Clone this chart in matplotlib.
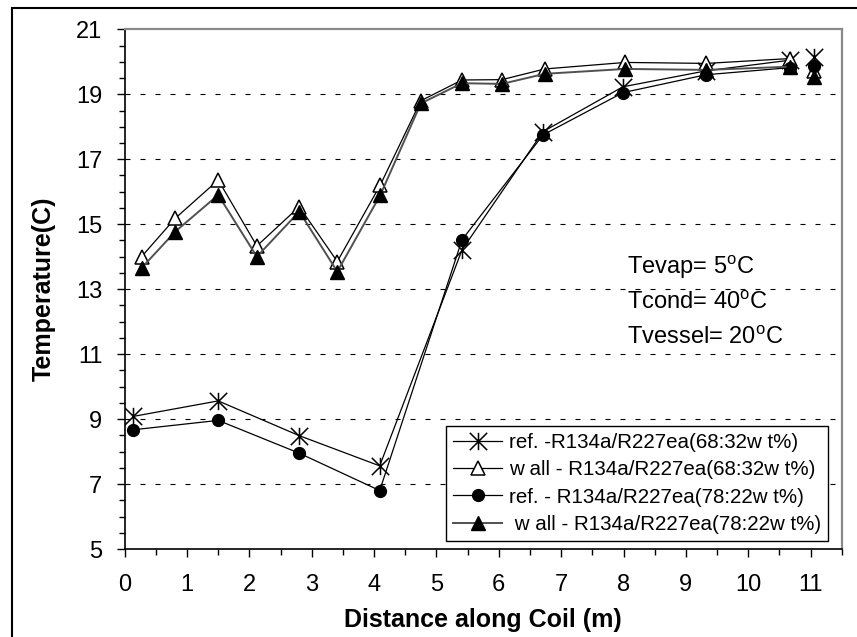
import matplotlib
matplotlib.use("Agg")
import matplotlib.pyplot as plt
import matplotlib.patches as mpatches
from matplotlib.path import Path
from matplotlib.ticker import MultipleLocator, FixedLocator

plt.rcParams['font.family'] = ['Liberation Sans', 'DejaVu Sans']
plt.rcParams['mathtext.fontset'] = 'custom'
plt.rcParams['mathtext.rm'] = 'Liberation Sans'

# distance along coil (m) for the two kinds of measurement points
x_ref = [0.13, 1.50, 2.80, 4.09, 5.41, 6.71, 7.99, 9.32, 10.67, 11.05]
x_wall = [0.27, 0.81, 1.50, 2.12, 2.80, 3.41, 4.10, 4.75, 5.41, 6.05,
          6.74, 8.03, 9.33, 10.67, 11.05]

# temperatures (C)
ref_6832 = [9.08, 9.56, 8.49, 7.56, 14.21, 17.85, 19.23, 19.72, 20.05, 20.15]
wall_6832 = [14.00, 15.18, 16.36, 14.33, 15.54, 13.85, 16.21, 18.80, 19.44,
             19.45, 19.78, 19.98, 19.95, 20.10, 19.72]
ref_7822 = [8.67, 8.96, 7.95, 6.80, 14.52, 17.75, 19.05, 19.60, 19.82, 19.87]
wall_7822 = [13.65, 14.77, 15.90, 14.00, 15.39, 13.54, 15.90, 18.72, 19.34,
             19.32, 19.63, 19.78, 19.75, 19.85, 19.53]

y_ticks = [5, 7, 9, 11, 13, 15, 17, 19, 21]
grid_levels = [7, 9, 11, 13, 15, 17, 19]

labels = ['ref. -R134a/R227ea(68:32w t%)',
          'w all - R134a/R227ea(68:32w t%)',
          'ref. - R134a/R227ea(78:22w t%)',
          ' w all - R134a/R227ea(78:22w t%)']

notes = ['Tevap= 5$^{\\mathrm{o}}$C', 'Tcond= 40$^{\\mathrm{o}}$C',
         'Tvessel= 20$^{\\mathrm{o}}$C']

# excel style star: an X with a vertical bar
star = Path([(-1, -1), (1, 1), (-1, 1), (1, -1), (0, -1), (0, 1)],
            [Path.MOVETO, Path.LINETO, Path.MOVETO, Path.LINETO,
             Path.MOVETO, Path.LINETO])

fig = plt.figure(figsize=(8.57, 6.37), dpi=100)
ax = fig.add_axes([0.1455, 0.1381, 0.8367, 0.8159])

series = [
    (x_ref, ref_6832, dict(marker=star, ms=12.5, mfc='none', mec='black', mew=1.1,
                           color='black', lw=0.9)),
    (x_wall, wall_6832, dict(marker='^', ms=9.5, mfc='white', mec='black', mew=1.1,
                             color='black', lw=0.9)),
    (x_ref, ref_7822, dict(marker='o', ms=8.5, mfc='black', mec='black',
                           color='black', lw=0.9)),
    (x_wall, wall_7822, dict(marker='^', ms=9.5, mfc='black', mec='black',
                             color='#505050', lw=1.4)),
]

for i, (xs, ys, style) in enumerate(series):
    # the last reading is shown without a connecting line
    ax.plot(xs[:-1], ys[:-1], label=labels[i], zorder=3 + i, **style)
    ax.plot(xs[-1:], ys[-1:], linestyle='none', zorder=3 + i,
            **{k: v for k, v in style.items() if k not in ('color', 'lw')})

ax.set_xlim(0, 11.5)
ax.set_ylim(5, 21)
ax.xaxis.set_major_locator(MultipleLocator(1))
ax.xaxis.set_minor_locator(MultipleLocator(0.5))
ax.yaxis.set_major_locator(FixedLocator(y_ticks))
ax.yaxis.set_minor_locator(MultipleLocator(0.5))
ax.tick_params(which='major', length=6, width=1, labelsize=17, direction='out')
ax.tick_params(axis='y', which='major', pad=10)
ax.tick_params(axis='x', which='major', pad=12)
ax.tick_params(which='minor', length=4, width=1, direction='out')

for yv in grid_levels:
    ax.axhline(yv, color='black', lw=0.8, ls=(0, (4.5, 9)), zorder=1)

for side in ('left', 'bottom'):
    ax.spines[side].set_color('black')
    ax.spines[side].set_linewidth(1.2)
for side in ('top', 'right'):
    ax.spines[side].set_color('#8a8a8a')
    ax.spines[side].set_linewidth(1.6)

ax.set_xlabel('Distance along Coil (m)', fontsize=18, fontweight='bold', va='center')
ax.xaxis.set_label_coords(0.5, -0.137)
ax.set_ylabel('Temperature(C)', fontsize=18, fontweight='bold', va='center')
ax.yaxis.set_label_coords(-0.1125, 0.5)

for k, txt in enumerate(notes):
    ax.text(8.06, 13.69 - 1.09 * k, txt, fontsize=17, va='center', ha='left')

leg = ax.legend(loc='lower left', bbox_to_anchor=(0.448, 0.0154), borderaxespad=0,
                fontsize=14.8, handlelength=2.4, handletextpad=0.3,
                labelspacing=0.4, borderpad=0.35, fancybox=False, framealpha=1)
leg.get_frame().set_edgecolor('black')
leg.get_frame().set_linewidth(1.0)
leg.set_zorder(10)

# outer chart frame (partly cut by the picture edge)
fig.patches.append(mpatches.Rectangle((0.0137, -0.05), 1.05, 0.9874 + 0.05,
                                      transform=fig.transFigure, fill=False,
                                      edgecolor='black', linewidth=1.5))

fig.savefig('out.png', dpi=100)
